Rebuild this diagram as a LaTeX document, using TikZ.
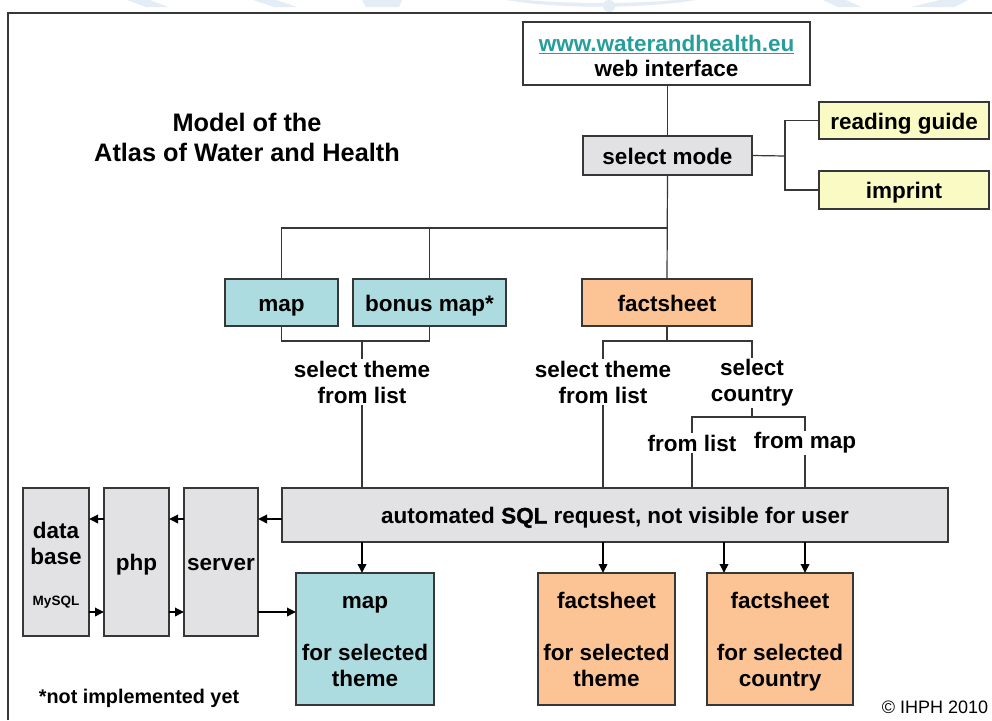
\documentclass[tikz,border=0pt]{standalone}
\usepackage{fontspec}
\setmainfont{Liberation Sans}
\newfontfamily\heavyfont[FakeBold=1.2]{Liberation Sans}
\usetikzlibrary{arrows.meta}
\definecolor{tealbox}{RGB}{172,220,224}
\definecolor{orangebox}{RGB}{252,196,148}
\definecolor{yellowbox}{RGB}{250,250,196}
\definecolor{graybox}{RGB}{226,226,228}
\definecolor{urlteal}{RGB}{38,158,156}
\definecolor{boxline}{RGB}{55,55,55}
\definecolor{wmark}{RGB}{228,236,246}
\newcommand\lblfont{\bfseries\fontsize{22.5}{26}\selectfont}
\tikzset{
  box/.style={draw=boxline, line width=1.3pt, inner sep=0pt, outer sep=0pt, align=center, font=\lblfont, text height=19pt, text depth=2pt},
  gbox/.style={box, fill=graybox},
  tbox/.style={box, fill=tealbox},
  obox/.style={box, fill=orangebox},
  ybox/.style={box, fill=yellowbox},
  lbl/.style={inner sep=2pt, outer sep=0pt, align=center, font=\lblfont},
  conn/.style={draw=boxline, line width=1.2pt},
  arr/.style={draw=black, line width=1.8pt, -{Triangle[length=9pt,width=8.5pt]}},
  frame/.style={draw=boxline, line width=1.8pt}
}
\begin{document}
\begin{tikzpicture}[x=1pt,y=-1pt]
\useasboundingbox (0,0) rectangle (992,720);
\fill[white] (0,0) rectangle (992,720);
% watermark remnants
\fill[wmark] (127,0) -- (150,0) -- (168,7) -- (146,7) -- cycle;
\fill[wmark] (253,0) -- (276,0) -- (297,7) -- (274,7) -- cycle;
\fill[wmark] (362,0) -- (402,0) -- (399,7) -- (366,7) -- cycle;
\fill[wmark] (506,0) .. controls (560,9) and (640,9) .. (696,0) -- (676,0) .. controls (630,4) and (572,4) .. (526,0) -- cycle;
\fill[wmark] (609,6) circle (6);
\fill[wmark] (823,0) -- (846,0) -- (861,7) -- (838,7) -- cycle;
\fill[wmark] (940,0) -- (968,0) -- (954,7) -- (911,7) -- cycle;
% frame
\draw[frame] (8,720) -- (8,13) -- (992,13);
% title
\node[lbl, font=\bfseries\fontsize{25.3}{30}\selectfont] (title) at (247,137) {Model of the\\Atlas of Water and Health};
% boxes
\node[box, fill=white, minimum width=287pt, minimum height=63pt] (web) at (666.5,53.5) {};
\node[lbl] (webtxt) at (666.5,56) {\textcolor{urlteal}{\underline{www.waterandhealth.eu}}\\[-1pt]web interface};
\node[gbox, minimum width=169pt, minimum height=39pt] (mode) at (667.5,155.5) {select mode};
\node[ybox, minimum width=170pt, minimum height=37pt] (guide) at (904,120.5) {reading guide};
\node[ybox, minimum width=170pt, minimum height=38pt] (imprint) at (904,190) {imprint};
\node[tbox, minimum width=113pt, minimum height=47pt] (mapA) at (281.5,302.5) {map};
\node[tbox, minimum width=153pt, minimum height=47pt] (bonus) at (429.5,302.5) {bonus map*};
\node[obox, minimum width=170pt, minimum height=47pt] (fact) at (667,302.5) {factsheet};
\node[gbox, minimum width=666pt, minimum height=54pt] (sql) at (615,515)
  {automated {\heavyfont\bfseries SQL} request, not visible for user};
\node[gbox, minimum width=66pt, minimum height=148pt] (db) at (56,562) {};
\node[lbl] (dbtxt) at (56,543.5) {data\\base};
\node[lbl, font=\bfseries\fontsize{13.5}{16}\selectfont] (dbsql) at (56,602) {MySQL};
\node[gbox, minimum width=65pt, minimum height=148pt] (php) at (136.5,562) {php};
\node[gbox, minimum width=74pt, minimum height=148pt] (server) at (221,562) {server};
\node[tbox, minimum width=138pt, minimum height=132pt] (mapB) at (365,639) {};
\node[lbl] (mapBtxt) at (365,642) {map\\[26pt]for selected\\theme};
\node[obox, minimum width=137pt, minimum height=132pt] (factT) at (606.5,639) {};
\node[lbl] (factTtxt) at (606.5,639) {factsheet\\[26pt]for selected\\theme};
\node[obox, minimum width=146pt, minimum height=132pt] (factC) at (780,639) {};
\node[lbl] (factCtxt) at (780,642) {factsheet\\[26pt]for selected\\country};
% labels
\node[lbl] (selA) at (362,382) {select theme\\from list};
\node[lbl] (selB) at (603,382) {select theme\\from list};
\node[lbl] (selC) at (752,383) {select\\country};
\node[lbl] (fromlist) at (692,443) {from list};
\node[lbl] (frommap) at (805,443) {from map};
\node[lbl, font=\bfseries\fontsize{19.8}{24}\selectfont] (note) at (139,698) {*not implemented yet};
\node[lbl, font=\fontsize{18}{22}\selectfont] (copy) at (935,707) {\textcopyright{} IHPH 2010};
% connectors
\coordinate (h1) at (667,228);
\coordinate (h2) at (785,156);
\coordinate (h3) at (362,341);
\coordinate (h4) at (667,341);
\coordinate (h5) at (752,417);
\coordinate (a724) at (724,542);
\coordinate (ytop) at (0,519);
\coordinate (ybot) at (0,612);
\draw[conn] (web.south -| mode.north) -- (mode.north);
\draw[conn] (mode.south) -- (fact.north);
\draw[conn] (mapA.north) |- (h1);
\draw[conn] (bonus.north) -- (bonus.north |- h1);
\draw[conn] (mode.east) -- (h2);
\draw[conn] (guide.west) -| (h2) |- (imprint.west);
\draw[conn] (mapA.south) |- (bonus.south |- h3) -- (bonus.south);
\draw[conn] (h3) -- (h3 |- selA.north);
\draw[conn] (selA.south) -- (selA.south |- sql.north);
\draw[conn] (fact.south) -- (h4);
\draw[conn] (selB.north) |- (selC.north |- h4) -- (selC.north);
\draw[conn] (selB.south) -- (selB.south |- sql.north);
\draw[conn] (selC.south) -- (h5);
\draw[conn] (fromlist.north) |- (frommap.north |- h5) -- (frommap.north);
\draw[conn] (fromlist.south) -- (fromlist.south |- sql.north);
\draw[conn] (frommap.south) -- (frommap.south |- sql.north);
% arrows
\draw[arr] (selA.south |- sql.south) -- (selA.south |- mapB.north);
\draw[arr] (selB.south |- sql.south) -- (selB.south |- factT.north);
\draw[arr] (a724) -- (a724 |- factC.north);
\draw[arr] (frommap.south |- sql.south) -- (frommap.south |- factC.north);
\draw[arr] (sql.west |- ytop) -- (server.east |- ytop);
\draw[arr] (server.west |- ytop) -- (php.east |- ytop);
\draw[arr] (php.west |- ytop) -- (db.east |- ytop);
\draw[arr] (db.east |- ybot) -- (php.west |- ybot);
\draw[arr] (php.east |- ybot) -- (server.west |- ybot);
\draw[arr] (server.east |- ybot) -- (mapB.west |- ybot);
\end{tikzpicture}
\end{document}
